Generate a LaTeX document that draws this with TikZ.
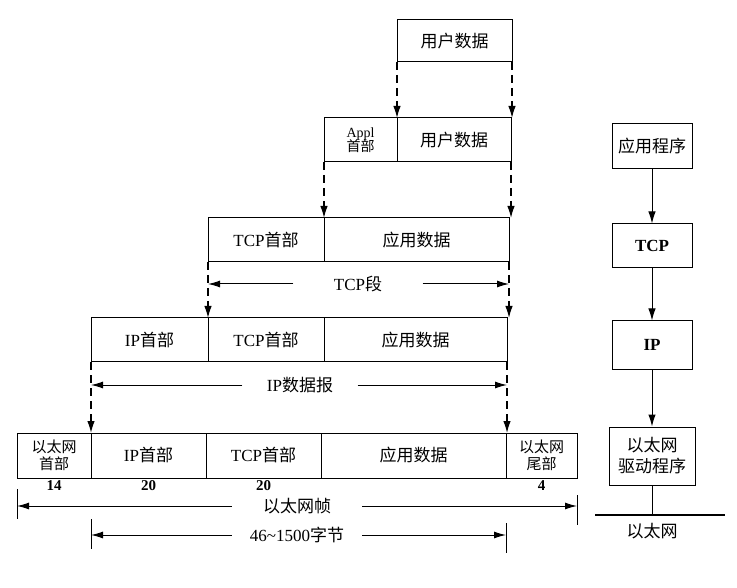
\documentclass[tikz,border=0pt]{standalone}
\usepackage{fontspec}
\setmainfont{Liberation Serif}
\newfontfamily\cjk{Noto Sans CJK SC}
\usetikzlibrary{arrows.meta}
\begin{document}
\begin{tikzpicture}[x=1pt,y=-1pt,
 cell/.style={draw,line width=1pt,inner sep=0pt,outer sep=0pt,anchor=north west,minimum height=44pt,font=\fontsize{17}{19}\selectfont,align=center},
 smallcell/.style={cell,font=\fontsize{15}{17}\selectfont},
 dasharr/.style={line width=1.3pt,dash pattern=on 8pt off 5pt,-{Latex[length=12pt,width=7.5pt]}},
 dimarr/.style={line width=1pt,-{Latex[length=12pt,width=7pt]}},
 tickline/.style={line width=1pt},
 dimlab/.style={inner sep=0pt,font=\fontsize{17}{19}\selectfont},
 num/.style={font=\bfseries\fontsize{15}{16}\selectfont,inner sep=0pt,anchor=north},
 layer/.style={draw,line width=1pt,minimum width=80pt,inner sep=0pt,align=center,font=\fontsize{17}{19}\selectfont},
 stackarr/.style={line width=1pt,-{Latex[length=12pt,width=7.5pt]}}
]
\useasboundingbox (0,0) rectangle (737,588);
% row 1
\node[cell,minimum width=115pt,minimum height=42pt] (u1) at (397,20) {\cjk 用户数据};
% row 2
\node[cell,minimum width=73pt,font=\fontsize{14}{15}\selectfont] (a2) at (324,118) {Appl\\[-1pt]{\cjk 首部}};
\node[cell,minimum width=114pt] (b2) at (397,118) {\cjk 用户数据};
% row 3
\node[cell,minimum width=116pt] (a3) at (208,218) {TCP{\cjk 首部}};
\node[cell,minimum width=185pt] (b3) at (324,218) {\cjk 应用数据};
% row 4
\node[cell,minimum width=117pt] (a4) at (91,318) {IP{\cjk 首部}};
\node[cell,minimum width=116pt] (b4) at (208,318) {TCP{\cjk 首部}};
\node[cell,minimum width=183pt] (c4) at (324,318) {\cjk 应用数据};
% row 5
\node[smallcell,minimum width=74pt,minimum height=45pt] (a5) at (17,433) {\cjk 以太网\\\cjk 首部};
\node[cell,minimum width=115pt,minimum height=45pt] (b5) at (91,433) {IP{\cjk 首部}};
\node[cell,minimum width=115pt,minimum height=45pt] (c5) at (206,433) {TCP{\cjk 首部}};
\node[cell,minimum width=185pt,minimum height=45pt] (d5) at (321,433) {\cjk 应用数据};
\node[smallcell,minimum width=71pt,minimum height=45pt] (e5) at (506,433) {\cjk 以太网\\\cjk 尾部};
% byte counts
\node[num] (n1) at ([yshift=-2pt]a5.south) {14};
\node[num] (n2) at ([yshift=-2pt]b5.south) {20};
\node[num] (n3) at ([yshift=-2pt]c5.south) {20};
\node[num] (n4) at ([yshift=-2pt]e5.south) {4};
% dashed encapsulation arrows
\draw[dasharr] (u1.south west) -- (u1.south west |- b2.north);
\draw[dasharr] (u1.south east) -- (u1.south east |- b2.north);
\draw[dasharr] (a2.south west) -- (a2.south west |- a3.north);
\draw[dasharr] (b2.south east) -- (b2.south east |- b3.north);
\draw[dasharr] (a3.south west) -- (a3.south west |- a4.north);
\draw[dasharr] (b3.south east) -- (b3.south east |- c4.north);
\draw[dasharr] (a4.south west) -- (a4.south west |- a5.north);
\draw[dasharr] (c4.south east) -- (c4.south east |- d5.north);
% dimension lines
\node[dimlab,minimum width=129pt] (tcpseg) at (358,284) {TCP{\cjk 段}};
\draw[dimarr] (tcpseg.west) -- (a3.west |- tcpseg.west);
\draw[dimarr] (tcpseg.east) -- (b3.east |- tcpseg.east);
\node[dimlab,minimum width=115pt] (ipdg) at (300,385) {IP{\cjk 数据报}};
\draw[dimarr] (ipdg.west) -- (a4.west |- ipdg.west);
\draw[dimarr] (ipdg.east) -- (c4.east |- ipdg.east);
\node[dimlab,minimum width=130pt] (frame) at (297,506) {\cjk 以太网帧};
\draw[dimarr] (frame.west) -- (a5.west |- frame.west);
\draw[dimarr] (frame.east) -- (e5.east |- frame.east);
\draw[tickline] (a5.south west) ++(0,11) -- ++(0,30);
\draw[tickline] (e5.south east) ++(0,17) -- ++(0,30);
\node[dimlab,minimum width=130pt] (payload) at (297,535) {46\textasciitilde1500{\cjk 字节}};
\draw[dimarr] (payload.west) -- (b5.west |- payload.west);
\draw[dimarr] (payload.east) -- (d5.east |- payload.east);
\draw[tickline] (b5.south west) ++(0,41) -- ++(0,30);
\draw[tickline] (d5.south east) ++(0,45) -- ++(0,30);
% protocol stack
\node[layer,minimum height=45pt] (app) at (652,146) {\cjk 应用程序};
\node[layer,minimum height=44pt] (tcp) at (652,246) {\bfseries TCP};
\node[layer,minimum height=48pt] (ip) at (652,345) {\bfseries IP};
\node[layer,minimum width=86pt,minimum height=58pt,font=\fontsize{17}{21}\selectfont] (drv) at (652,456) {\cjk 以太网\\\cjk 驱动程序};
\draw[stackarr] (app) -- (tcp);
\draw[stackarr] (tcp) -- (ip);
\draw[stackarr] (ip) -- (drv);
\coordinate (busL) at (595,515);
\coordinate (busR) at (725,515);
\draw[line width=2.8pt] (busL) -- (busR);
\draw[line width=1pt] (drv.south) -- (drv.south |- busL);
\node[dimlab] (ethlab) at (652,531) {\cjk 以太网};
\end{tikzpicture}
\end{document}
